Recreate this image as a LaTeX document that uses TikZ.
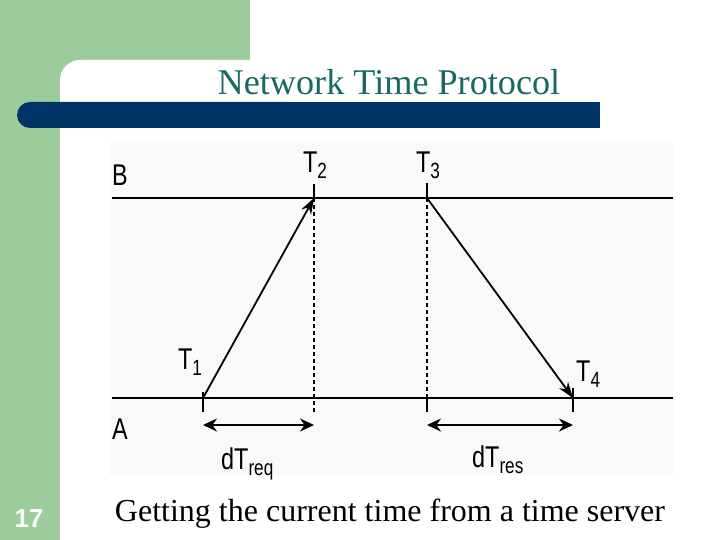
\documentclass[tikz,border=0pt]{standalone}
\usepackage{fontspec}
\usepackage{graphicx}
\setmainfont{Liberation Serif}
\setsansfont{Liberation Sans}
\usetikzlibrary{arrows.meta}

\definecolor{panelgreen}{RGB}{156,204,156}
\definecolor{barblue}{RGB}{0,51,102}
\definecolor{titleteal}{RGB}{24,104,100}
\definecolor{plotgrey}{RGB}{249,249,249}

\newcommand{\narrow}[1]{\scalebox{0.78}[1]{#1}}
\newcommand{\tsub}[2]{\narrow{#1\raisebox{-6pt}{\fontsize{22}{22}\selectfont #2}}}

\begin{document}
\begin{tikzpicture}[
    x=1pt, y=-1pt,
    every node/.style={inner sep=0pt},
    lbl/.style={font=\sffamily\fontsize{30}{30}\selectfont, anchor=base west},
    timeline/.style={line width=2.4pt},
    tick/.style={line width=1.8pt},
    guide/.style={line width=1.2pt, dash pattern=on 4pt off 3pt},
    message/.style={line width=1.8pt, -{Stealth[length=16pt, width=11pt]}},
    span/.style={line width=2.6pt, {Stealth[length=14pt, width=13pt]}-{Stealth[length=14pt, width=13pt]}},
]
  \useasboundingbox (0,0) rectangle (720,540);
  \fill [panelgreen] (0,0) rectangle (250,80);
  \fill [panelgreen] (0,0) rectangle (60,540);
  \fill [white, rounded corners=20pt] (60,60) rectangle (760,580);
  \fill [barblue, rounded corners=13pt] (17,102) rectangle (300,128);
  \fill [barblue] (280,102) rectangle (600,128);
  \node [anchor=base, text=titleteal, font=\rmfamily\fontsize{36.2}{36.2}\selectfont] (title) at (389,95) {Network Time Protocol};
  \fill [plotgrey] (110,143) rectangle (673,475);

  \coordinate (b0) at (112,198);
  \coordinate (b1) at (673,198);
  \coordinate (a0) at (112,398);
  \coordinate (a1) at (673,398);
  \coordinate (t1) at (203,398);
  \coordinate (t2) at (314,198);
  \coordinate (t3) at (427,198);
  \coordinate (t4) at (573,398);
  \coordinate (req0) at (203,425);
  \coordinate (req1) at (314,425);
  \coordinate (res0) at (427,425);
  \coordinate (res1) at (573,425);

  \draw [timeline] (b0) -- (b1);
  \draw [timeline] (a0) -- (a1);
  \draw [tick] (t1) ++(0,-6) -- ++(0,20);
  \draw [tick] (t2) ++(0,-14) -- (t2);
  \draw [guide] (t2) -- (t2 |- a0) -- ++(0,14);
  \draw [tick] (t3) ++(0,-15) -- (t3);
  \draw [guide] (t3) -- (t3 |- a0);
  \draw [tick] (t3 |- a0) -- ++(0,14);
  \draw [tick] (t4) ++(0,-10) -- ++(0,24);

  \draw (t1) edge [message] (t2);
  \draw (t3) edge [message] (t4);
  \draw (req0) edge [span] (req1);
  \draw (res0) edge [span] (res1);

  \node [lbl] (blabel) at (112,186) {\narrow{B}};
  \node [lbl] (alabel) at (112,439) {\narrow{A}};
  \node [lbl] (t1label) at (178,369) {\tsub{T}{1}};
  \node [lbl] (t2label) at (303,173) {\tsub{T}{2}};
  \node [lbl] (t3label) at (416,173) {\tsub{T}{3}};
  \node [lbl] (t4label) at (576,381) {\tsub{T}{4}};
  \node [lbl] (reqlabel) at (221,469) {\tsub{dT}{req}};
  \node [lbl] (reslabel) at (472,467) {\tsub{dT}{res}};

  \node [anchor=base, font=\rmfamily\fontsize{32}{32}\selectfont] (caption) at (390,521) {Getting the current time from a time server};
  \node [anchor=base, text=white, font=\sffamily\bfseries\fontsize{26}{26}\selectfont] (slideno) at (29,527) {17};
\end{tikzpicture}
\end{document}
